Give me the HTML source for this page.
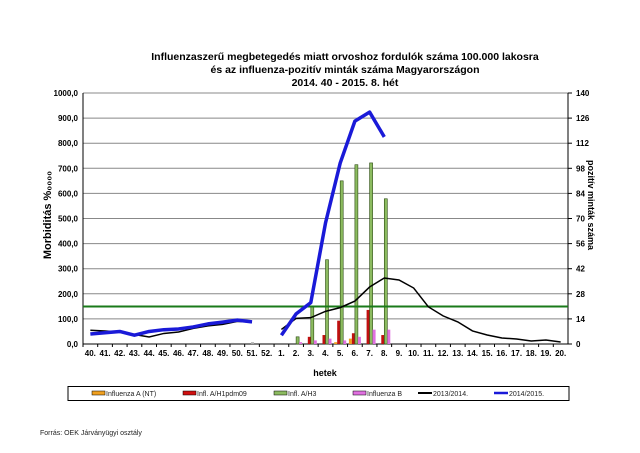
<!DOCTYPE html><html><head><meta charset="utf-8"><style>body{margin:0;background:#fff}svg{display:block;font-family:"Liberation Sans",Arial,sans-serif}</style></head><body>
<svg width="640" height="453" xmlns="http://www.w3.org/2000/svg">
<g font-weight="bold" font-size="10.5" text-anchor="middle" fill="#000">
<text x="345" y="60">Influenzaszerű megbetegedés miatt orvoshoz fordulók száma 100.000 lakosra</text>
<text x="345" y="73">és az influenza-pozitív minták száma Magyarországon</text>
<text x="345" y="86">2014. 40 - 2015. 8. hét</text>
</g>
<g id="grid" stroke="#888" stroke-width="1"></g>
<g id="ax" font-size="8" font-weight="bold"></g>
<g id="bars"></g>
<line x1="83" y1="306.5" x2="568" y2="306.5" stroke="#1a7a1a" stroke-width="2"/>
<polyline id="blk" fill="none" stroke="#000" stroke-width="1.5"/>
<polyline id="blu1" fill="none" stroke="#1a1ad8" stroke-width="3.5" stroke-linejoin="round"/>
<polyline id="blu2" fill="none" stroke="#1a1ad8" stroke-width="3.5" stroke-linejoin="round"/>
<text x="0" y="0" transform="translate(51,215) rotate(-90)" text-anchor="middle" font-size="11" font-weight="bold">Morbiditás %₀₀₀₀</text>
<text x="0" y="0" transform="translate(588,205) rotate(90)" text-anchor="middle" font-size="9" font-weight="bold">pozitív minták száma</text>
<text x="325" y="376" text-anchor="middle" font-size="9" font-weight="bold">hetek</text>
<rect x="68" y="386.5" width="501" height="14" fill="#fff" stroke="#000" stroke-width="1"/>
<g font-size="7" fill="#222">
<rect x="92" y="391" width="13" height="4" fill="#f0a020" stroke="#000" stroke-width=".5"/><text x="106" y="396">Influenza A (NT)</text>
<rect x="183" y="391" width="13" height="4" fill="#d01010" stroke="#000" stroke-width=".5"/><text x="197" y="396">Infl. A/H1pdm09</text>
<rect x="274" y="391" width="13" height="4" fill="#8cbb60" stroke="#000" stroke-width=".5"/><text x="288" y="396">Infl. A/H3</text>
<rect x="353" y="391" width="13" height="4" fill="#e070e0" stroke="#000" stroke-width=".5"/><text x="367" y="396">Influenza B</text>
<line x1="418" y1="393" x2="432" y2="393" stroke="#000" stroke-width="2"/><text x="433" y="396">2013/2014.</text>
<line x1="494" y1="393" x2="508" y2="393" stroke="#1a1ad8" stroke-width="2.5"/><text x="509" y="396">2014/2015.</text>
<text x="40" y="435">Forrás: OEK Járványügyi osztály</text>
</g>
</svg>
<script>
const L=83,R=568,T=93,B=344,W=(R-L)/33;
const yl=v=>B-v*(B-T)/1000, yr=v=>B-v*(B-T)/140, cx=i=>L+W*(i+0.5);
let g='',a='';
for(let k=0;k<=10;k++){const y=yl(k*100);g+=`<line x1="${L}" y1="${y}" x2="${R}" y2="${y}" stroke="${k==0?'#000':'#888'}"/>`;
a+=`<text x="${L-5}" y="${y+3}" text-anchor="end">${(k*100).toFixed(1).replace('.',',')}</text>`;
a+=`<line x1="${R}" y1="${y}" x2="${R+4}" y2="${y}" stroke="#000"/><text x="${R+8}" y="${y+3}">${k*14}</text>`;}
g+=`<line x1="${L}" y1="${T}" x2="${L}" y2="${B}" stroke="#000"/><line x1="${R}" y1="${T}" x2="${R}" y2="${B}" stroke="#000"/>`;
const labs=[];for(let i=40;i<=52;i++)labs.push(i);for(let i=1;i<=20;i++)labs.push(i);
labs.forEach((l,i)=>{a+=`<text x="${cx(i)}" y="${B+12}" text-anchor="middle">${l}.</text><line x1="${L+W*i}" y1="${B}" x2="${L+W*i}" y2="${B+3}" stroke="#000"/>`;});
document.getElementById('grid').innerHTML=g;document.getElementById('ax').innerHTML=a;
// bars: index offset for week n of 2015 = 12+n
const bars={2:[0,0,4,1],3:[0,4,21,2],4:[0,5,47,3],5:[1,13,91,2],6:[3,6,100,4],7:[0,19,101,8],8:[0,5,81,8]};
const cols=['#f0a020','#c01010','#8cbb60','#e070e0'];let b='';
b+=`<rect x="${cx(11)-1}" y="${yr(1)}" width="3" height="${yr(0)-yr(1)}" fill="#aaa"/>`;
for(const n in bars){bars[n].forEach((v,j)=>{if(!v)return;const x=cx(12+ +n)-6+j*3;b+=`<rect x="${x}" y="${yr(v)}" width="3" height="${B-yr(v)}" fill="${cols[j]}" stroke="${j==2?'#2a4a10':'none'}" stroke-width=".6"/>`;});}
document.getElementById('bars').innerHTML=b;
const pts=(arr,off)=>arr.map((v,i)=>v==null?null:`${cx(i+off)},${yl(v)}`).filter(x=>x).join(' ');
const blk=[55,52,48,38,28,42,48,62,72,78,90,87];
document.getElementById('blk').setAttribute('points',pts(blk,0));
const blk2=[58,102,105,130,145,171,227,263,255,223,148,112,88,52,36,24,20,12,16,8];
const p=document.createElementNS('http://www.w3.org/2000/svg','polyline');p.setAttribute('points',pts(blk2,13));p.setAttribute('fill','none');p.setAttribute('stroke','#000');p.setAttribute('stroke-width','1.5');document.querySelector('svg').insertBefore(p,document.getElementById('blu1'));
document.getElementById('blu1').setAttribute('points',pts([40,45,50,35,50,57,60,68,80,87,95,88],0));
document.getElementById('blu2').setAttribute('points',pts([35,120,165,482,721,888,924,825],13));
</script>
</body></html>
